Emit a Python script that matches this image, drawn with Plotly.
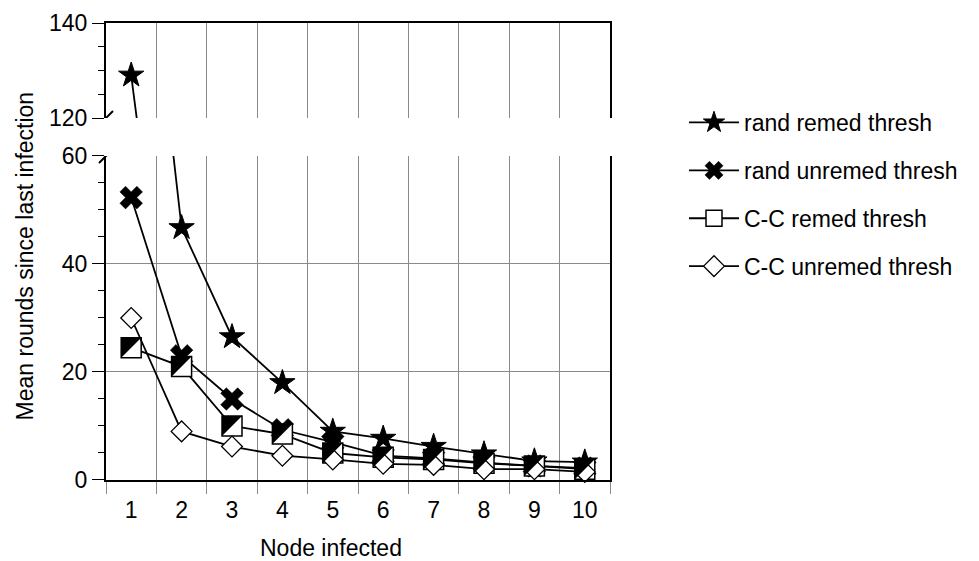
import plotly.graph_objects as go

nodes = [1, 2, 3, 4, 5, 6, 7, 8, 9, 10]
rand_remed = [129, 46.7, 26.5, 18.0, 9.0, 7.7, 6.2, 4.8, 3.5, 3.3]
rand_unremed = [52.3, 23.0, 15.0, 9.3, 7.0, 4.5, 4.0, 3.2, 2.6, 2.2]
cc_remed = [24.5, 21.0, 10.0, 8.5, 5.0, 4.2, 3.8, 3.1, 2.6, 2.0]
cc_unremed = [30.0, 9.0, 6.2, 4.5, 3.8, 3.0, 2.8, 2.0, 2.0, 1.5]

boundaries = [n - 0.5 for n in nodes] + [nodes[-1] + 0.5]

FONT = "Liberation Sans, Arial, sans-serif"
FS = 23
GRID = "#8a8a8a"

W, H = 979, 561
ML, MR, MT, MB = 106, 369, 23, 81
PW, PH = W - ML - MR, H - MT - MB
BOT_DOM = [0, 0.709]
TOP_DOM = [0.7921, 1]
XR = [0.5, 10.5]
YR_BOT = [0, 60]
YR_TOP = [120, 140]

SQ = 20                      # square marker size (px)
TRI = SQ / 0.9               # triangle-nw size: its legs (0.9*size) equal the square side
SHIFT = 0.15 * TRI           # px offset so the triangle corner meets the square corner

def shifted(rng, px_len, shift_px, sign):
    d = (rng[1] - rng[0]) / px_len * shift_px * sign
    return [rng[0] + d, rng[1] + d]

fig = go.Figure()

series = [
    ("rand remed thresh", rand_remed, dict(symbol="star", size=19, color="black", line=dict(color="black", width=1))),
    ("rand unremed thresh", rand_unremed, dict(symbol="x", size=20, color="black", line=dict(color="black", width=0.5))),
    ("C-C remed thresh", cc_remed, dict(symbol="square", size=SQ, color="white", line=dict(color="black", width=1.5))),
    ("C-C unremed thresh", cc_unremed, dict(symbol="diamond", size=16, color="white", line=dict(color="black", width=1.3))),
]

for i, (name, vals, mk) in enumerate(series):
    for xa, ya, show in (("x", "y", True), ("x2", "y2", False)):
        fig.add_trace(go.Scatter(
            x=nodes, y=vals, name=name, mode="lines+markers",
            line=dict(color="black", width=1.8), marker=mk,
            xaxis=xa, yaxis=ya,
            legendgroup=name, showlegend=show, cliponaxis=False,
            legendrank=i + 1,
        ))

# black upper-left halves of the C-C remed squares (drawn on pixel-offset overlay axes)
for xa, ya in (("x3", "y3"), ("x4", "y4")):
    fig.add_trace(go.Scatter(
        x=nodes, y=cc_remed, mode="markers", name="C-C remed thresh",
        marker=dict(symbol="triangle-nw", size=TRI, color="black", line=dict(width=0)),
        xaxis=xa, yaxis=ya, legendgroup="C-C remed thresh", showlegend=False,
        cliponaxis=False, hoverinfo="skip",
    ))

xcommon = dict(range=XR, tickmode="array", tickvals=nodes, showgrid=False, zeroline=False)

ax_hidden = dict(visible=False, showgrid=False, zeroline=False)
fig.update_layout(
    width=W, height=H, autosize=False,
    paper_bgcolor="white", plot_bgcolor="white",
    margin=dict(l=ML, r=MR, t=MT, b=MB, pad=0, autoexpand=False),
    font=dict(family=FONT, size=FS, color="black"),
    xaxis=dict(**xcommon, anchor="y", ticks="outside", ticklen=8, tickcolor="rgba(0,0,0,0)",
               showline=True, linecolor="black", linewidth=2,
               minor=dict(tickmode="array", tickvals=boundaries, ticks="outside", ticklen=12,
                          tickcolor=GRID, showgrid=True, gridcolor=GRID, gridwidth=1),
               tickfont=dict(size=FS)),
    xaxis2=dict(**xcommon, anchor="y2", side="top", showticklabels=False, ticks="",
                showline=True, linecolor="black", linewidth=2,
                minor=dict(tickmode="array", tickvals=boundaries, ticks="",
                           showgrid=True, gridcolor=GRID, gridwidth=1)),
    yaxis=dict(domain=BOT_DOM, range=YR_BOT, tickmode="linear", tick0=0, dtick=20,
               ticks="outside", ticklen=12, tickcolor="black", showgrid=True, gridcolor=GRID,
               zeroline=False, showline=True, linecolor="black", linewidth=2, mirror=True,
               minor=dict(dtick=5, tick0=0, ticks="outside", ticklen=6, tickcolor="black", showgrid=False),
               anchor="x"),
    yaxis2=dict(domain=TOP_DOM, range=YR_TOP, tickmode="linear", tick0=120, dtick=20,
                ticks="outside", ticklen=12, tickcolor="black", showgrid=True, gridcolor=GRID,
                zeroline=False, showline=True, linecolor="black", linewidth=2, mirror=True,
                minor=dict(dtick=5, tick0=120, ticks="outside", ticklen=6, tickcolor="black", showgrid=False),
                anchor="x2"),
    xaxis3=dict(ax_hidden, overlaying="x", anchor="y3", range=shifted(XR, PW, SHIFT, 1)),
    yaxis3=dict(ax_hidden, overlaying="y", anchor="x3", range=shifted(YR_BOT, PH * (BOT_DOM[1] - BOT_DOM[0]), SHIFT, -1)),
    xaxis4=dict(ax_hidden, overlaying="x2", anchor="y4", range=shifted(XR, PW, SHIFT, 1)),
    yaxis4=dict(ax_hidden, overlaying="y2", anchor="x4", range=shifted(YR_TOP, PH * (TOP_DOM[1] - TOP_DOM[0]), SHIFT, -1)),
    legend=dict(xref="container", yref="container", x=684 / W, y=1 - 101 / H,
                xanchor="left", yanchor="top", bgcolor="rgba(0,0,0,0)",
                font=dict(size=FS), tracegroupgap=15, itemwidth=50),
    showlegend=True,
)

fig.add_annotation(text="Mean rounds since last infection", textangle=-90,
                   xref="paper", yref="paper", x=-0.16, y=0.49, showarrow=False,
                   xanchor="center", yanchor="middle", font=dict(size=FS))
fig.add_annotation(text="Node infected", xref="paper", yref="paper", x=0.446, y=-0.149,
                   showarrow=False, xanchor="center", yanchor="middle", font=dict(size=FS))

for yref, anchor in (("y", YR_BOT[1]), ("y2", YR_TOP[0])):
    fig.add_shape(type="line", xref="x domain", yref=yref, xsizemode="pixel", ysizemode="pixel",
                  xanchor=0, yanchor=anchor, x0=-7, x1=7, y0=-7, y1=7,
                  line=dict(color="black", width=2))

fig.write_html("out.html", post_script="document.body.style.margin='0px';",
               config={"displayModeBar": False})
